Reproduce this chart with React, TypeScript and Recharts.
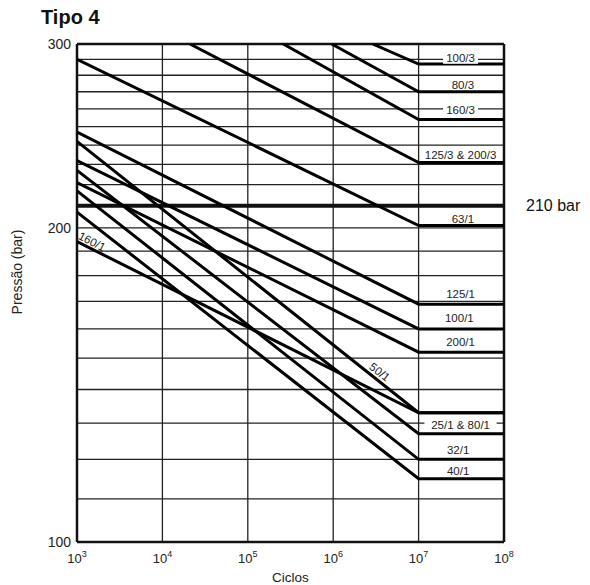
import React from "react";
import {
  LineChart,
  Line,
  XAxis,
  YAxis,
  ReferenceLine,
  ReferenceDot,
} from "recharts";

// one entry per curve: where it starts, and the pressure it levels off at (10^7 cycles)
const seriesNames = [
  "100/3", "80/3", "160/3", "125/3 & 200/3", "63/1", "125/1", "100/1",
  "200/1", "50/1", "25/1 & 80/1", "32/1", "40/1", "160/1",
];
const startCycles = [2.9e6, 9.6e5, 2.6e5, 2.1e4, 1e3, 1e3, 1e3, 1e3, 1e3, 1e3, 1e3, 1e3, 1e3];
const startPressure = [300, 300, 300, 300, 290, 247, 232, 221, 242, 227, 217, 207, 194];
const endPressure = [287, 270, 254, 231, 201, 169, 160, 152, 133, 127, 120, 115, 133];
const kneeCycles = 1e7;
const maxCycles = 1e8;

const decadeTicks = [1e3, 1e4, 1e5, 1e6, 1e7, 1e8];
const innerDecades = [1e4, 1e5, 1e6, 1e7];
const pressureTicks = [100, 200, 300];
const gridPressures = [110, 120, 130, 140, 150, 160, 170, 180, 190, 200, 220, 230, 240, 250, 260, 270, 280, 290];
const ratedPressure = 210;

// curve labels
const labelText = [
  "100/3", "80/3", "160/3", "125/3 & 200/3", "63/1", "125/1", "100/1",
  "200/1", "25/1 & 80/1", "32/1", "40/1", "50/1", "160/1",
];
const labelCycles = [3.1e7, 3.3e7, 3.1e7, 3.1e7, 3.3e7, 3.1e7, 3.0e7, 3.1e7, 3.1e7, 2.9e7, 2.9e7, 3.5e6, 1.5e3];
const labelPressure = [291, 274, 259.5, 235, 204, 173, 164, 155.5, 129.5, 122.5, 117, 145.5, 194];
const labelAngle = [0, 0, 0, 0, 0, 0, 0, 0, 0, 0, 0, 38, 27];
const labelBoxed = [true, false, true, false, false, false, false, false, true, false, false, false, false];

const FONT = "'Liberation Sans', Arial, Helvetica, sans-serif";

const curves = seriesNames.map((name, i) => ({
  name,
  points: [
    { x: startCycles[i], y: startPressure[i] },
    { x: kneeCycles, y: endPressure[i] },
    { x: maxCycles, y: endPressure[i] },
  ],
}));

function DecadeTick(props: any) {
  const { x, y, payload } = props;
  const exp = Math.round(Math.log10(payload.value));
  return (
    <text x={x} y={y + 19} textAnchor="middle" fontFamily={FONT} fontSize={13} fill="#222">
      10
      <tspan dy={-6} fontSize={9}>{exp}</tspan>
    </text>
  );
}

function CurveLabel(props: any) {
  const { cx, cy, text, angle, boxed } = props;
  if (cx == null || cy == null) return null;
  const w = text.length * 6.2 + 4;
  return (
    <g transform={`rotate(${angle} ${cx} ${cy})`}>
      {boxed && <rect x={cx - w / 2} y={cy - 6} width={w} height={12} fill="#fff" />}
      <text
        x={cx}
        y={cy}
        textAnchor="middle"
        dominantBaseline="central"
        fontFamily={FONT}
        fontSize={11.5}
        fill="#222"
      >
        {text}
      </text>
    </g>
  );
}

export default function App() {
  return (
    <div style={{ position: "relative", width: 582, height: 577, fontFamily: FONT }}>
      <div
        style={{
          position: "absolute",
          left: 33,
          top: -1,
          fontSize: 20,
          lineHeight: "20px",
          fontWeight: "bold",
          color: "#111",
        }}
      >
        Tipo 4
      </div>
      <div
        style={{
          position: "absolute",
          left: 9,
          top: 264,
          transform: "translate(-50%, -50%) rotate(-90deg)",
          fontSize: 14,
          whiteSpace: "nowrap",
          color: "#222",
        }}
      >
        Pressão (bar)
      </div>
      <LineChart width={582} height={577} margin={{ top: 36, right: 86, bottom: 0, left: 0 }}>
        <XAxis
          dataKey="x"
          type="number"
          scale="log"
          domain={[1e3, 1e8]}
          ticks={decadeTicks}
          allowDataOverflow
          height={43}
          axisLine={false}
          tickLine={false}
          tickSize={0}
          tick={<DecadeTick />}
          label={{ value: "Ciclos", position: "insideBottom", offset: 3, fontSize: 13.5, fill: "#222" }}
        />
        <YAxis
          dataKey="y"
          type="number"
          scale="log"
          domain={[100, 300]}
          ticks={pressureTicks}
          allowDataOverflow
          width={69}
          axisLine={false}
          tickLine={false}
          tickSize={0}
          tickMargin={6}
          tick={{ fontSize: 14, fill: "#222", fontFamily: FONT }}
        />
        {gridPressures.map((p) => (
          <ReferenceLine key={`h${p}`} y={p} stroke="#222" strokeWidth={1.3} />
        ))}
        {innerDecades.map((c) => (
          <ReferenceLine key={`v${c}`} x={c} stroke="#222" strokeWidth={1.3} />
        ))}
        <ReferenceLine
          y={ratedPressure}
          stroke="#111"
          strokeWidth={4}
          label={{ value: "210 bar", position: "right", offset: 22, fontSize: 16, fill: "#111" }}
        />
        <ReferenceLine y={100} stroke="#111" strokeWidth={2.5} />
        <ReferenceLine y={300} stroke="#111" strokeWidth={2.5} />
        <ReferenceLine x={1e3} stroke="#111" strokeWidth={2.5} />
        <ReferenceLine x={1e8} stroke="#111" strokeWidth={2.5} />
        {curves.map((c) => (
          <Line
            key={c.name}
            data={c.points}
            dataKey="y"
            type="linear"
            stroke="#000"
            strokeWidth={3}
            dot={false}
            activeDot={false}
            isAnimationActive={false}
          />
        ))}
        {labelText.map((t, i) => (
          <ReferenceDot
            key={`l${t}`}
            x={labelCycles[i]}
            y={labelPressure[i]}
            r={0}
            shape={(p: any) => (
              <CurveLabel cx={p.cx} cy={p.cy} text={t} angle={labelAngle[i]} boxed={labelBoxed[i]} />
            )}
          />
        ))}
      </LineChart>
    </div>
  );
}
